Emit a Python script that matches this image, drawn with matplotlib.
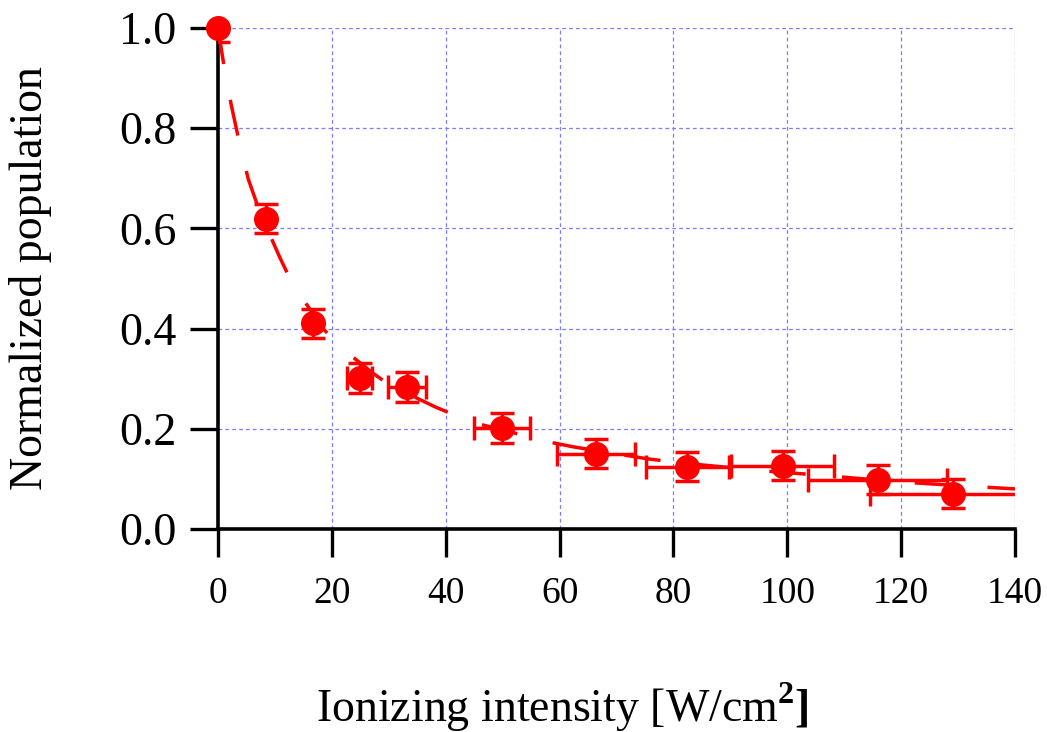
import matplotlib
matplotlib.use("Agg")
import matplotlib.pyplot as plt
import numpy as np

# Data points
intensity = [0.0, 8.4, 16.7, 24.9, 33.2, 49.9, 66.4, 82.4, 99.2, 115.9, 129.1]
population = [1.0, 0.619, 0.411, 0.301, 0.283, 0.202, 0.150, 0.124, 0.126, 0.098, 0.070]
intensity_err = [0.0, 0.0, 0.0, 2.2, 3.3, 4.9, 6.8, 7.3, 9.0, 12.2, 14.5]
population_err = [0.028, 0.029, 0.029, 0.030, 0.030, 0.030, 0.029, 0.029, 0.029, 0.029, 0.029]

# Fitted curve
fit_x = [0.0, 1.05, 2.3, 3.7, 5.3, 7.4, 10.9, 13.0, 18.4, 21.1, 27.2, 30.2, 38.1, 44.3,
         51.3, 57.1, 62.4, 75.5, 81.2, 90.5, 95.6, 102.8, 109.3, 119.8, 128.0, 140.0]
fit_y = [1.0, 0.924, 0.848, 0.774, 0.699, 0.631, 0.541, 0.491, 0.401, 0.367, 0.311, 0.287,
         0.244, 0.214, 0.194, 0.176, 0.164, 0.140, 0.132, 0.122, 0.116, 0.110, 0.104,
         0.094, 0.088, 0.080]

x_ticks = [0, 20, 40, 60, 80, 100, 120, 140]
y_ticks = [0.0, 0.2, 0.4, 0.6, 0.8, 1.0]

plt.rcParams['font.family'] = ['Liberation Serif', 'DejaVu Serif']
plt.rcParams['mathtext.fontset'] = 'custom'
plt.rcParams['mathtext.rm'] = 'Liberation Serif'
plt.rcParams['mathtext.bf'] = 'Liberation Serif:bold'

fig = plt.figure(figsize=(10.47, 7.32), dpi=100)
ax = fig.add_axes([218/1047, 1 - 529/732, (1015-218)/1047, (529-28)/732])

red = '#ff0000'
ax.errorbar(intensity, population, xerr=intensity_err, yerr=population_err, fmt='none',
            ecolor=red, elinewidth=2.5, capsize=8.3, capthick=2.5, zorder=3)
ax.plot(fit_x, fit_y, color=red, lw=2.5, linestyle=(0, (10.5, 10.5)), zorder=4)
ax.plot(intensity, population, 'o', color=red, markersize=17, clip_on=False, zorder=5)

ax.set_xlim(0, 140)
ax.set_ylim(0, 1.0)
ax.set_xticks(x_ticks)
ax.set_yticks(y_ticks)
ax.set_yticklabels([f"{v:.1f}" for v in y_ticks])

ax.grid(True, color='#7b7bff', linestyle=(0, (3, 2.5)), linewidth=0.9)
ax.set_axisbelow(True)

for s in ['top', 'right']:
    ax.spines[s].set_visible(False)
for s in ['left', 'bottom']:
    ax.spines[s].set_linewidth(2.6)
    ax.spines[s].set_color('black')

ax.tick_params(axis='y', direction='out', length=20, width=2.4, labelsize=33, pad=10)
ax.tick_params(axis='x', direction='out', length=20, width=2.4, labelsize=27, pad=14)

ax.set_ylabel('Normalized population', fontsize=33)
ax.yaxis.set_label_coords(-0.208, 0.5)
ax.set_xlabel(r'Ionizing intensity [W/cm$^{\mathbf{2}}\mathbf{]}$', fontsize=33)
ax.xaxis.set_label_coords(0.432, -0.302)

fig.savefig('out.png', dpi=100)
